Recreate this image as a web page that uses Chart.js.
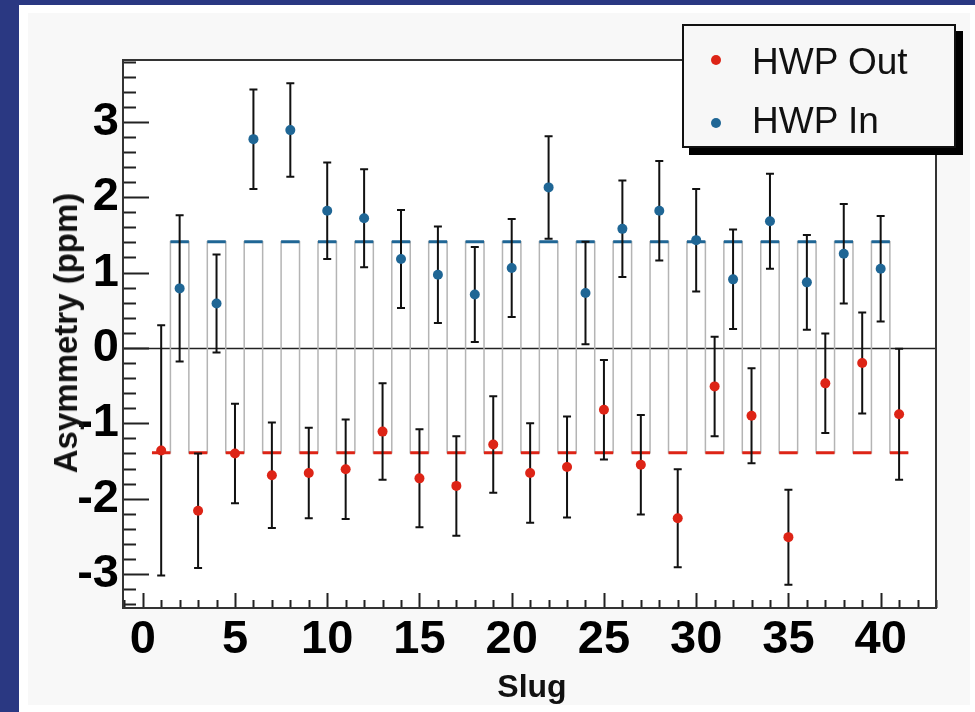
<!DOCTYPE html>
<html lang="en">
<head>
    <meta charset="UTF-8">
    <title>Asymmetry vs Slug</title>
    <script src="https://cdn.jsdelivr.net/npm/chart.js@4.4.1/dist/chart.umd.min.js"></script>
</head>
<body>
    <style>
        body{
            margin: 0;
            width: 975px;
            height: 712px;
            background-color: #2a3882;
            overflow: hidden;
            font-family: 'Liberation Sans', Arial, sans-serif;
        }
        .panel{
            position: absolute;
            left: 19px;
            top: 5px;
            right: 0;
            bottom: 0;
            background-color: #ffffff;
        }
        .inner{
            position: absolute;
            left: 28px;
            top: 13px;
            width: 942px;
            height: 692px;
            background-color: #f8f8f8;
        }
        #plot{
            position: absolute;
            left: 0;
            top: 0;
        }
        .legend{
            position: absolute;
            left: 682px;
            top: 24px;
            width: 274px;
            height: 124px;
            box-sizing: border-box;
            border: 2px solid #111;
            background-color: #f7f7f7;
            box-shadow: 7px 7px 0 #000;
        }
        .item{
            position: absolute;
            left: 68px;
            font-size: 37px;
            color: #111;
            line-height: 37px;
        }
        .dot{
            position: absolute;
            left: 27px;
            width: 10px;
            height: 10px;
            border-radius: 5px;
        }
        .ytitle{
            position: absolute;
            left: 66px;
            top: 333px;
            transform: translate(-50%, -50%) rotate(-90deg);
            white-space: nowrap;
            font-weight: bold;
            font-size: 33px;
            color: #111;
        }
        .xtitle{
            position: absolute;
            left: 532px;
            top: 686px;
            transform: translate(-50%, -50%);
            font-weight: bold;
            font-size: 32px;
            color: #111;
        }
    </style>

    <div class="panel"></div>
    <div class="inner"></div>
    <canvas id="plot" width="975" height="712"></canvas>

    <div class="legend">
        <div class="dot" style="top: 29px; background-color: #dd2416;"></div>
        <div class="item" style="top: 17px;">HWP Out</div>
        <div class="dot" style="top: 92px; background-color: #1f6695;"></div>
        <div class="item" style="top: 76px;">HWP In</div>
    </div>
    <div class="ytitle">Asymmetry (ppm)</div>
    <div class="xtitle">Slug</div>

    <script>
        // HWP Out = odd slugs, HWP In = even slugs
        const slugsOut = [1,3,5,7,9,11,13,15,17,19,21,23,25,27,29,31,33,35,37,39,41];
        const asymOut  = [-1.36,-2.16,-1.40,-1.69,-1.66,-1.61,-1.11,-1.73,-1.83,-1.28,-1.66,
                          -1.58,-0.82,-1.55,-2.26,-0.51,-0.90,-2.51,-0.47,-0.20,-0.88];
        const errOut   = [1.66,0.76,0.66,0.70,0.60,0.66,0.64,0.65,0.66,0.64,0.66,
                          0.67,0.66,0.66,0.65,0.66,0.63,0.63,0.66,0.67,0.87];

        const slugsIn = [2,4,6,8,10,12,14,16,18,20,22,24,26,28,30,32,34,36,38,40];
        const asymIn  = [0.79,0.59,2.77,2.89,1.82,1.72,1.18,0.97,0.71,1.06,
                         2.13,0.73,1.58,1.82,1.43,0.91,1.68,0.87,1.25,1.05];
        const errIn   = [0.97,0.65,0.66,0.62,0.64,0.65,0.65,0.64,0.63,0.65,
                         0.68,0.68,0.64,0.66,0.68,0.66,0.63,0.63,0.66,0.70];

        // average levels for each HWP state
        const meanOut = -1.39;
        const meanIn = 1.41;

        const xTicks = [0,5,10,15,20,25,30,35,40];
        const yTicks = [-3,-2,-1,0,1,2,3];

        const redCol = '#dd2416';
        const blueCol = '#1f6695';

        // square wave through the averages, one step per slug
        const wave = [];
        const redSeg = [];
        const blueSeg = [];
        for (let s = 1; s <= 41; s++) {
            const odd = s % 2 === 1;
            const lvl = odd ? meanOut : meanIn;
            wave.push({x: s - 0.5, y: lvl}, {x: s + 0.5, y: lvl});
            const seg = odd ? redSeg : blueSeg;
            seg.push({x: s - 0.5, y: lvl}, {x: s + 0.5, y: lvl}, {x: s + 0.5, y: null});
        }

        const rootStyle = {
            id: 'rootStyle',
            beforeDraw(chart) {
                const {ctx, chartArea: a} = chart;
                ctx.save();
                ctx.fillStyle = '#ffffff';
                ctx.fillRect(a.left, a.top, a.right - a.left, a.bottom - a.top);
                ctx.restore();
            },
            beforeDatasetsDraw(chart) {
                const {ctx, chartArea: a, scales: {y}} = chart;
                const y0 = Math.round(y.getPixelForValue(0)) + 0.5;
                ctx.save();
                ctx.strokeStyle = '#222';
                ctx.lineWidth = 1.5;
                ctx.beginPath();
                ctx.moveTo(a.left, y0);
                ctx.lineTo(a.right, y0);
                ctx.stroke();
                ctx.restore();
            },
            beforeDatasetDraw(chart, args) {
                const ds = chart.data.datasets[args.index];
                if (!ds.errors) return;
                const {ctx, scales: {x, y}} = chart;
                ctx.save();
                ctx.strokeStyle = '#111';
                ctx.lineWidth = 2;
                ds.data.forEach((p, i) => {
                    const px = x.getPixelForValue(p.x);
                    const top = y.getPixelForValue(p.y + ds.errors[i]);
                    const bot = y.getPixelForValue(p.y - ds.errors[i]);
                    ctx.beginPath();
                    ctx.moveTo(px, top); ctx.lineTo(px, bot);
                    ctx.moveTo(px - 4, top); ctx.lineTo(px + 4, top);
                    ctx.moveTo(px - 4, bot); ctx.lineTo(px + 4, bot);
                    ctx.stroke();
                });
                ctx.restore();
            },
            afterDraw(chart) {
                const {ctx, chartArea: a, scales: {x, y}} = chart;
                ctx.save();
                ctx.strokeStyle = '#222';
                ctx.lineWidth = 2;
                // inward ticks on x
                ctx.beginPath();
                for (let v = -1; v <= 43; v++) {
                    if (v < x.min || v > x.max) continue;
                    const px = Math.round(x.getPixelForValue(v)) + 0.5;
                    const len = v % 5 === 0 ? 15 : 8;
                    ctx.moveTo(px, a.bottom);
                    ctx.lineTo(px, a.bottom - len);
                }
                // inward ticks on y, minor every 0.2
                for (let k = -17; k <= 19; k++) {
                    const v = k / 5;
                    if (v < y.min || v > y.max) continue;
                    const py = Math.round(y.getPixelForValue(v)) + 0.5;
                    const len = k % 5 === 0 ? 26 : 13;
                    ctx.moveTo(a.left, py);
                    ctx.lineTo(a.left + len, py);
                }
                ctx.stroke();
                ctx.strokeStyle = '#333';
                ctx.strokeRect(a.left, a.top, a.right - a.left, a.bottom - a.top);
                ctx.restore();
            }
        };

        new Chart(document.getElementById('plot'), {
            type: 'scatter',
            data: {
                datasets: [
                    {
                        label: 'HWP Out',
                        data: slugsOut.map((s, i) => ({x: s, y: asymOut[i]})),
                        errors: errOut,
                        backgroundColor: redCol,
                        borderColor: redCol,
                        pointRadius: 5,
                        borderWidth: 0,
                        order: 1
                    },
                    {
                        label: 'HWP In',
                        data: slugsIn.map((s, i) => ({x: s, y: asymIn[i]})),
                        errors: errIn,
                        backgroundColor: blueCol,
                        borderColor: blueCol,
                        pointRadius: 5,
                        borderWidth: 0,
                        order: 2
                    },
                    {
                        label: 'out level',
                        type: 'line',
                        data: redSeg,
                        borderColor: redCol,
                        borderWidth: 3,
                        pointRadius: 0,
                        spanGaps: false,
                        order: 3
                    },
                    {
                        label: 'in level',
                        type: 'line',
                        data: blueSeg,
                        borderColor: blueCol,
                        borderWidth: 3,
                        pointRadius: 0,
                        spanGaps: false,
                        order: 4
                    },
                    {
                        label: 'wave',
                        type: 'line',
                        data: wave,
                        borderColor: '#b4b4b4',
                        borderWidth: 1.5,
                        pointRadius: 0,
                        order: 5
                    }
                ]
            },
            plugins: [rootStyle],
            options: {
                responsive: false,
                animation: false,
                layout: {padding: {top: 60, right: 39, left: 0, bottom: 0}},
                plugins: {legend: {display: false}, tooltip: {enabled: false}},
                scales: {
                    x: {
                        type: 'linear',
                        min: -1.07,
                        max: 43,
                        grid: {display: false, drawTicks: false},
                        border: {display: false},
                        afterBuildTicks: (s) => { s.ticks = xTicks.map(v => ({value: v})); },
                        afterFit: (s) => { s.height = 104; },
                        ticks: {
                            color: '#000',
                            padding: 4,
                            maxRotation: 0,
                            font: {family: "'Liberation Sans', Arial", size: 47, weight: 'bold'}
                        }
                    },
                    y: {
                        min: -3.45,
                        max: 3.82,
                        grid: {display: false, drawTicks: false},
                        border: {display: false},
                        afterBuildTicks: (s) => { s.ticks = yTicks.map(v => ({value: v})); },
                        afterFit: (s) => { s.width = 123; },
                        ticks: {
                            color: '#000',
                            padding: 4,
                            font: {family: "'Liberation Sans', Arial", size: 47, weight: 'bold'}
                        }
                    }
                }
            }
        });
    </script>
</body>
</html>
